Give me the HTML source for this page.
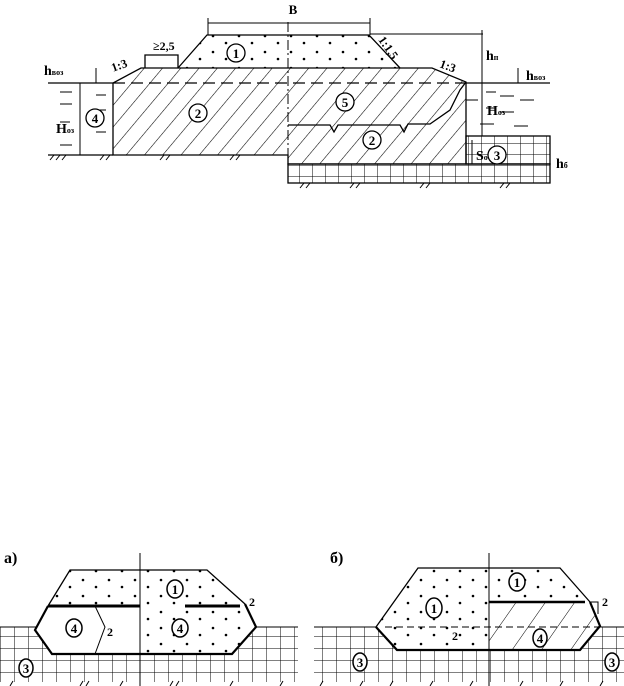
<!DOCTYPE html>
<html><head><meta charset="utf-8"><style>body{margin:0;background:#fff}svg{display:block}text{font-family:"Liberation Serif",serif;font-weight:bold;fill:#000}</style></head><body>
<svg width="624" height="686" viewBox="0 0 624 686" xmlns="http://www.w3.org/2000/svg">
<defs>
<pattern id="h" width="14" height="14" patternUnits="userSpaceOnUse" patternTransform="rotate(40)"><line x1="0" y1="0" x2="0" y2="14" stroke="#000" stroke-width="1.1"/></pattern>
<pattern id="g" width="13" height="11" patternUnits="userSpaceOnUse"><path d="M0 0H13M0 0V11" stroke="#000" stroke-width="1" fill="none"/></pattern>
<pattern id="g2" width="14" height="12" patternUnits="userSpaceOnUse"><path d="M0 0H14M0 0V12" stroke="#000" stroke-width="1" fill="none"/></pattern>
<pattern id="d" width="26" height="16" patternUnits="userSpaceOnUse"><circle cx="5" cy="4" r="1.3"/><circle cx="18" cy="11" r="1.3"/></pattern>
<pattern id="h2" width="24" height="24" patternUnits="userSpaceOnUse" patternTransform="rotate(35)"><line x1="0" y1="0" x2="0" y2="24" stroke="#000" stroke-width="1"/></pattern>
</defs>
<g stroke="#000" fill="none" stroke-width="1.3">
<!-- top diagram -->
<rect x="288" y="164" width="262" height="19" fill="url(#g)"/>
<rect x="466" y="136" width="84" height="28" fill="url(#g)"/>
<path d="M113 155V83L141 68H432L466 82V164H288V155Z" fill="url(#h)"/>
<path d="M178 68L207 35H369L400 68Z" fill="url(#d)" stroke="none"/>
<path d="M178 68L207 35H369L400 68"/>
<path d="M288 125H330L334 132L338 125H400L404 132L408 124H430L450 110L460 90L466 82"/>
<path d="M145 68V55H178V68"/>
<line x1="48" y1="83" x2="113" y2="83"/><line x1="466" y1="83" x2="550" y2="83"/>
<line x1="113" y1="83" x2="466" y2="83" stroke-dasharray="12 6"/>
<line x1="288" y1="22" x2="288" y2="183" stroke-dasharray="10 3 2 3" stroke-width="1"/>
<line x1="48" y1="155" x2="113" y2="155"/>
<line x1="208" y1="23" x2="370" y2="23" stroke-width="1"/><line x1="208" y1="18" x2="208" y2="35" stroke-width="1"/><line x1="370" y1="18" x2="370" y2="35" stroke-width="1"/>
<line x1="370" y1="34" x2="483" y2="34" stroke-width="1"/><line x1="482" y1="30" x2="482" y2="136" stroke-width="1"/>
<line x1="80" y1="83" x2="80" y2="155" stroke-width="1"/><line x1="96" y1="68" x2="96" y2="83" stroke-width="1"/>
<line x1="518" y1="68" x2="518" y2="83" stroke-width="1"/>
<line x1="472" y1="140" x2="472" y2="164" stroke-width="1"/>
<path d="M60 92h12M60 104h12M96 95h10M96 110h10M96 132h10M60 145h12M60 122h10M486 92h10M486 108h10M500 96h14M520 100h14M500 112h14M514 126h14M480 124h14M466 100h12" stroke-width="1"/>
<path d="M50 160l4-5M56 160l4-5M62 160l4-5M100 160l4-5M106 160l4-5M160 160l4-5M166 160l4-5M230 160l4-5M236 160l4-5M300 188l4-5M306 188l4-5M350 188l4-5M356 188l4-5M420 188l4-5M426 188l4-5M500 188l4-5M506 188l4-5" stroke-width="1"/>
<g fill="#fff"><circle cx="236" cy="53" r="9"/><circle cx="198" cy="113" r="9"/><circle cx="345" cy="102" r="9"/><circle cx="372" cy="140" r="9"/><circle cx="95" cy="118" r="9"/><circle cx="497" cy="155" r="9"/></g>
<!-- bottom a -->
<rect x="0" y="627" width="298" height="55" fill="url(#g2)" stroke="none"/>
<line x1="0" y1="627" x2="298" y2="627" stroke-width="1"/>
<path d="M70 570H207L256 627L232 654H52L35 630L48 606Z" fill="#fff" stroke="none"/>
<path d="M140 570H207L256 627L232 654H140Z" fill="url(#d)" stroke="none"/>
<path d="M70 570H140V606H48Z" fill="url(#d)" stroke="none"/>
<path d="M48 606L70 570H207L245 604"/>
<path d="M245 604L256 627L232 654H52L35 630L48 606" stroke-width="2.2"/>
<path d="M48 606H140M185 606H240" stroke-width="3"/>
<path d="M95 606L105 627L95 654" stroke-width="1"/>
<line x1="140" y1="553" x2="140" y2="686" stroke-width="1"/>
<path d="M10 686l3-5M80 686l3-5M86 686l3-5M120 686l3-5M170 686l3-5M176 686l3-5M230 686l3-5M280 686l3-5" stroke-width="1"/>
<!-- bottom b -->
<rect x="314" y="627" width="310" height="55" fill="url(#g2)" stroke="none"/>
<line x1="314" y1="627" x2="624" y2="627" stroke-width="1"/>
<path d="M376 627L418 568H560L590 602L600 626L580 650H397Z" fill="#fff" stroke="none"/>
<path d="M376 627L418 568H560L590 602H489V650H397Z" fill="url(#d)" stroke="none"/>
<path d="M489 602H590L600 626L580 650H489Z" fill="url(#h2)" stroke="none"/>
<path d="M376 627L418 568H560L590 602"/>
<path d="M590 602L600 626L580 650H397L376 627" stroke-width="2.2"/>
<path d="M489 602H585" stroke-width="2.5"/>
<line x1="385" y1="627" x2="600" y2="627" stroke-dasharray="7 4" stroke-width="1"/>
<line x1="489" y1="553" x2="489" y2="686" stroke-width="1"/>
<path d="M590 602H598V614" stroke-width="1"/>
<path d="M320 686l3-5M360 686l3-5M390 686l3-5M430 686l3-5M470 686l3-5M520 686l3-5M560 686l3-5M600 686l3-5" stroke-width="1"/>
<g fill="#fff" stroke-width="1.5"><ellipse cx="175" cy="589" rx="8" ry="9"/><ellipse cx="74" cy="628" rx="8" ry="9"/><ellipse cx="180" cy="628" rx="8" ry="9"/><ellipse cx="26" cy="668" rx="7" ry="9"/><ellipse cx="434" cy="608" rx="8" ry="10"/><ellipse cx="517" cy="582" rx="8" ry="9"/><ellipse cx="540" cy="638" rx="7" ry="9"/><ellipse cx="360" cy="662" rx="7" ry="9"/><ellipse cx="612" cy="662" rx="7" ry="9"/></g>
</g>
<g font-size="13" text-anchor="middle">
<text x="293" y="14">В</text>
<text x="236" y="58">1</text><text x="198" y="118">2</text><text x="345" y="107">5</text><text x="372" y="145">2</text><text x="95" y="123">4</text><text x="497" y="160">3</text>
<text x="175" y="594">1</text><text x="74" y="633">4</text><text x="180" y="633">4</text><text x="26" y="673">3</text>
<text x="434" y="613">1</text><text x="517" y="587">1</text><text x="540" y="643">4</text><text x="360" y="667">3</text><text x="612" y="667">3</text>
<text x="110" y="636" font-size="12">2</text><text x="252" y="606" font-size="12">2</text><text x="605" y="606" font-size="12">2</text><text x="455" y="640" font-size="12">2</text>
</g>
<g font-size="12">
<text x="44" y="75" font-size="14">h<tspan font-size="8">воз</tspan></text>
<text x="112" y="70" transform="rotate(-20 118 68)">1:3</text>
<text x="153" y="50">≥2,5</text>
<text x="372" y="45" transform="rotate(55 380 48)">1:1,5</text>
<text x="440" y="69" transform="rotate(20 445 65)">1:3</text>
<text x="486" y="60" font-size="14">h<tspan font-size="8">п</tspan></text>
<text x="526" y="80" font-size="14">h<tspan font-size="8">воз</tspan></text>
<text x="487" y="115" font-size="14">H<tspan font-size="8">оз</tspan></text>
<text x="56" y="133" font-size="14">H<tspan font-size="8">оз</tspan></text>
<text x="476" y="160" font-size="14">S<tspan font-size="8">о</tspan></text>
<text x="556" y="168" font-size="14">h<tspan font-size="8">б</tspan></text>
<text x="4" y="563" font-size="16">а)</text>
<text x="330" y="563" font-size="16">б)</text>
</g>
</svg>
</body></html>
